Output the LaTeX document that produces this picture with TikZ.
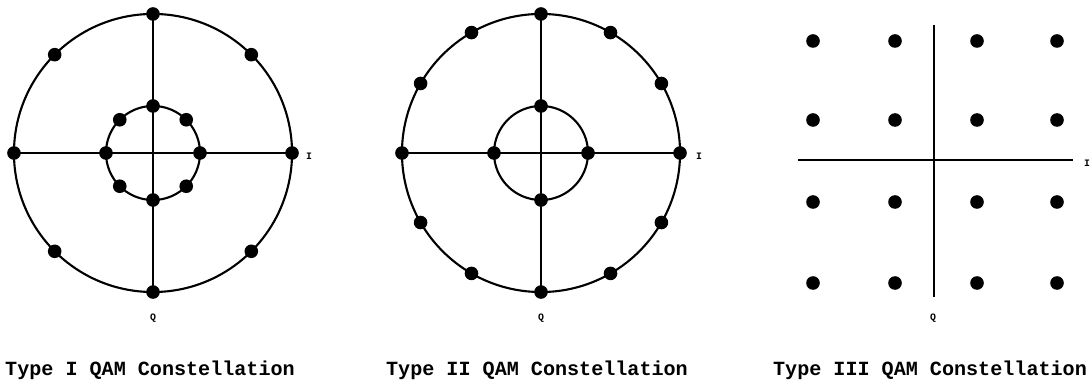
\documentclass[tikz,border=0pt]{standalone}
\usepackage{fontspec}
\setmonofont{Liberation Mono}
\usetikzlibrary{positioning,calc}
\tikzset{
  sdot/.style={circle, fill=black, inner sep=0pt, minimum size=0.34cm},
  axisline/.style={line width=1.6pt},
  ring/.style={line width=1.5pt},
  axlab/.style={font=\ttfamily\bfseries\fontsize{7}{7}\selectfont, inner sep=1pt},
  caption/.style={font=\ttfamily\bfseries\fontsize{14.3}{16}\selectfont, inner sep=0pt},
}
\begin{document}
\begin{tikzpicture}[x=0.025cm, y=-0.025cm]
\useasboundingbox (0,0) rectangle (1090,385);

% Type I: two rings of eight points
\coordinate (c1) at (153,153);
\draw[ring] (c1) circle[radius=3.475cm];
\draw[ring] (c1) circle[radius=1.175cm];
\coordinate (w1) at ($(c1)+(-139,0)$);
\coordinate (e1) at ($(c1)+(139,0)$);
\coordinate (n1) at ($(c1)+(0,-139)$);
\coordinate (s1) at ($(c1)+(0,139)$);
\draw[axisline] (w1) -- (e1);
\draw[axisline] (n1) -- (s1);
\foreach \a in {0,45,...,315}{
  \node[sdot] (oa\a) at ($(c1)+(\a:3.475cm)$) {};
  \node[sdot] (ia\a) at ($(c1)+(\a:1.175cm)$) {};
}
\node[axlab] (i1) at (309,156) {I};
\node[axlab] (q1) at (153,318) {Q};

% Type II: inner four, outer twelve
\coordinate (c2) at (541,153);
\draw[ring] (c2) circle[radius=3.475cm];
\draw[ring] (c2) circle[radius=1.175cm];
\coordinate (w2) at ($(c2)+(-139,0)$);
\coordinate (e2) at ($(c2)+(139,0)$);
\coordinate (n2) at ($(c2)+(0,-139)$);
\coordinate (s2) at ($(c2)+(0,139)$);
\draw[axisline] (w2) -- (e2);
\draw[axisline] (n2) -- (s2);
\foreach \a in {0,30,...,330}
  \node[sdot] (ob\a) at ($(c2)+(\a:3.475cm)$) {};
\foreach \a in {0,90,180,270}
  \node[sdot] (ib\a) at ($(c2)+(\a:1.175cm)$) {};
\node[axlab] (i2) at (699,156) {I};
\node[axlab] (q2) at (541,318) {Q};

% Type III: square grid
\coordinate (w3) at (798,160);
\coordinate (e3) at (1073,160);
\coordinate (n3) at (934,25);
\coordinate (s3) at (934,297);
\draw[axisline] (w3) -- (e3);
\draw[axisline] (n3) -- (s3);
\foreach \x [count=\i] in {813,895,977,1057}
  \foreach \y [count=\j] in {41,120,202,283}
    \node[sdot] (g\i\j) at (\x,\y) {};
\node[axlab] (i3) at (1087,163) {I};
\node[axlab] (q3) at (933,318) {Q};

% captions
\node[caption] (cap1) at (150,370) {Type I QAM Constellation};
\node[caption] (cap2) at (537,370) {Type II QAM Constellation};
\node[caption] (cap3) at (930,370) {Type III QAM Constellation};

\end{tikzpicture}
\end{document}
